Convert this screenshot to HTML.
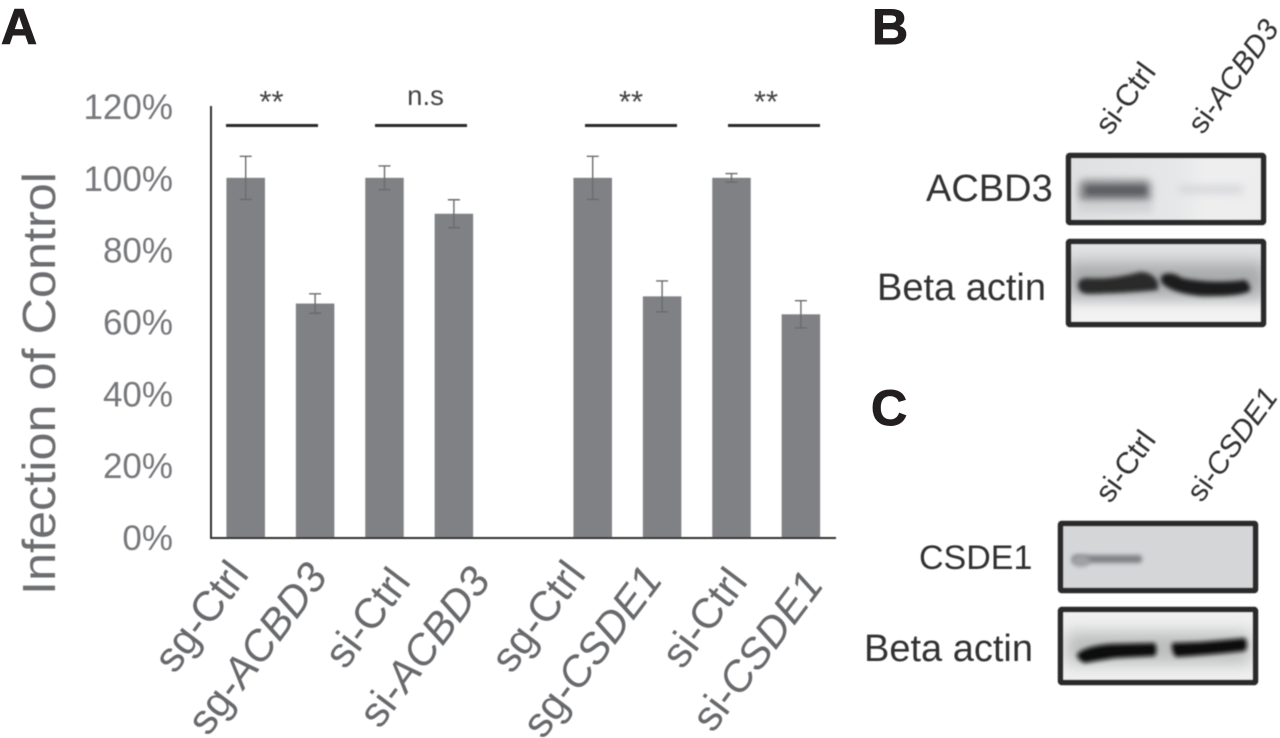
<!DOCTYPE html>
<html lang="en">
<head>
<meta charset="utf-8">
<title>Infection of Control figure</title>
<style>
html,body{margin:0;padding:0;background:#fff;width:1280px;height:738px;overflow:hidden}
svg{display:block;font-family:"Liberation Sans",sans-serif}
</style>
</head>
<body>
<svg id="fig" xmlns="http://www.w3.org/2000/svg" width="1280" height="738" viewBox="0 0 1280 738">
<defs>
<filter id="b2" x="-30%" y="-100%" width="160%" height="300%"><feGaussianBlur stdDeviation="2"/></filter>
<filter id="b4" x="-30%" y="-100%" width="160%" height="300%"><feGaussianBlur stdDeviation="4"/></filter>
<filter id="b7" x="-30%" y="-150%" width="160%" height="400%"><feGaussianBlur stdDeviation="8"/></filter>
<filter id="soft" x="-5%" y="-5%" width="110%" height="110%"><feGaussianBlur stdDeviation="0.45"/></filter>
<linearGradient id="acbd3-bg" x1="0" x2="1" y1="0" y2="0"><stop offset="0" stop-color="#dfe0e1"/><stop offset="0.55" stop-color="#e6e7e8"/><stop offset="0.7" stop-color="#eeeeef"/><stop offset="1" stop-color="#ededee"/></linearGradient>
<clipPath id="c1"><rect x="1066" y="153" width="200" height="72"/></clipPath>
<clipPath id="c2"><rect x="1066" y="239" width="200" height="88"/></clipPath>
<clipPath id="c3"><rect x="1058" y="521" width="200" height="72"/></clipPath>
<clipPath id="c4"><rect x="1058" y="607" width="200" height="78"/></clipPath>
</defs>

<g id="chart" filter="url(#soft)"></g>

<g filter="url(#soft)" font-size="42.5" fill="#68696c" text-anchor="end">
<text transform="translate(250 575) rotate(-53)">sg-Ctrl</text>
<text transform="translate(329 577) rotate(-53)">sg-<tspan font-style="italic">ACBD3</tspan></text>
<text transform="translate(412 582) rotate(-53)">si-Ctrl</text>
<text transform="translate(492 581) rotate(-53)">si-<tspan font-style="italic">ACBD3</tspan></text>
<text transform="translate(587 575) rotate(-53)">sg-Ctrl</text>
<text transform="translate(664 580) rotate(-53)">sg-<tspan font-style="italic">CSDE1</tspan></text>
<text transform="translate(749 582) rotate(-53)">si-Ctrl</text>
<text transform="translate(825 585) rotate(-53)">si-<tspan font-style="italic">CSDE1</tspan></text>
</g>

<g filter="url(#soft)" fill="#444" text-anchor="middle">
<rect x="226" y="124" width="92" height="3" fill="#2a2a2a"/>
<rect x="375" y="124" width="92" height="3" fill="#2a2a2a"/>
<rect x="585" y="124" width="92" height="3" fill="#2a2a2a"/>
<rect x="728" y="124" width="92" height="3" fill="#2a2a2a"/>
<text x="271.5" y="112" font-size="31">**</text>
<text x="425.5" y="105" font-size="27.5">n.s</text>
<text x="631" y="112" font-size="31">**</text>
<text x="766" y="112" font-size="31">**</text>
</g>

<g font-weight="700" font-size="50" fill="#231f20" stroke="#231f20" stroke-width="1">
<text x="1" y="44">A</text>
<text x="872" y="44">B</text>
<text x="871" y="425">C</text>
</g>

<g filter="url(#soft)">
<text transform="translate(1157 72) rotate(-54)" text-anchor="end" font-size="30.5" fill="#333">si-Ctrl</text>
<text transform="translate(1280 29) rotate(-54)" text-anchor="end" font-size="30" fill="#333">si-<tspan font-style="italic">ACBD3</tspan></text>
<text x="926" y="201" font-size="38" fill="#333">ACBD3</text>
<text x="877" y="300" font-size="38" fill="#333">Beta actin</text>
<g>
<rect x="1066" y="153" width="200" height="72" fill="url(#acbd3-bg)"/>
<g clip-path="url(#c1)">
<rect x="1079" y="180" width="72" height="23" rx="6" fill="#808184" filter="url(#b4)"/>
<rect x="1086" y="186" width="60" height="9" rx="4" fill="#5f6063" filter="url(#b2)"/>
<rect x="1078" y="202" width="74" height="10" fill="#d0d1d3" filter="url(#b4)"/>
<rect x="1178" y="185" width="66" height="9" rx="4" fill="#d8d9da" filter="url(#b4)"/>
</g>
<rect x="1068.5" y="155.5" width="195" height="67" rx="1" fill="none" stroke="#2a2a2c" stroke-width="5.5"/>
</g>
<g>
<rect x="1066" y="239" width="200" height="88" fill="#e2e3e4"/>
<g clip-path="url(#c2)">
<rect x="1066" y="302" width="200" height="26" fill="#f3f3f3" filter="url(#b4)"/>
<rect x="1066" y="262" width="200" height="36" fill="#a9aaac" filter="url(#b7)"/>
<path d="M1078 285 Q1078 278 1088 278 Q1110 280 1140 272 Q1152 272 1158 282 L1158 290 Q1130 293 1090 294 Q1078 294 1078 285Z" fill="#2a2a2c" filter="url(#b2)"/>
<path d="M1161 276 Q1170 270 1182 278 Q1210 284 1245 280 Q1251 284 1250 291 Q1240 297 1200 296 Q1170 293 1161 282Z" fill="#1d1d1f" filter="url(#b2)"/>
</g>
<rect x="1068.5" y="241.5" width="195" height="83" rx="1" fill="none" stroke="#2a2a2c" stroke-width="5.5"/>
</g>
</g>

<g filter="url(#soft)">
<text transform="translate(1157 440) rotate(-54)" text-anchor="end" font-size="30.5" fill="#333">si-Ctrl</text>
<text transform="translate(1279 397) rotate(-54)" text-anchor="end" font-size="30" fill="#333">si-<tspan font-style="italic">CSDE1</tspan></text>
<text x="919" y="569" font-size="34" fill="#333">CSDE1</text>
<text x="864" y="661" font-size="38" fill="#333">Beta actin</text>
<g>
<rect x="1058" y="521" width="200" height="72" fill="#d5d6d8"/>
<g clip-path="url(#c3)">
<rect x="1072" y="555" width="70" height="8" rx="3" fill="#808184" filter="url(#b2)"/>
<ellipse cx="1081" cy="561" rx="9" ry="6" fill="#a0a1a4" filter="url(#b2)"/>
</g>
<rect x="1060.5" y="523.5" width="195" height="67" rx="1" fill="none" stroke="#2a2a2c" stroke-width="5.5"/>
</g>
<g>
<rect x="1058" y="607" width="200" height="78" fill="#f0f0f0"/>
<g clip-path="url(#c4)">
<rect x="1066" y="632" width="185" height="32" fill="#bcbdbe" filter="url(#b7)"/>
<path d="M1077 654 Q1085 646 1110 644 L1155 643 Q1158 650 1155 656 L1115 658 Q1095 661 1085 663 Q1077 660 1077 654Z" fill="#0f0f10" filter="url(#b2)"/>
<path d="M1172 643 L1200 642 Q1225 640 1245 638 Q1249 645 1245 651 Q1210 655 1176 657 Q1171 652 1172 643Z" fill="#0f0f10" filter="url(#b2)"/>
</g>
<rect x="1060.5" y="609.5" width="195" height="73" rx="1" fill="none" stroke="#2a2a2c" stroke-width="5.5"/>
</g>
</g>
</svg>

<script>
const categories = ["sg-Ctrl", "sg-ACBD3", "si-Ctrl", "si-ACBD3", "", "sg-Ctrl", "sg-CSDE1", "si-Ctrl", "si-CSDE1"];
const means = [100, 65, 100, 90, null, 100, 67, 100, 62];
const errors = [6, 2.7, 3.3, 3.9, null, 6, 4.3, 1.2, 3.8];
const yTicks = [0, 20, 40, 60, 80, 100, 120];

const NS = "http://www.w3.org/2000/svg";
const chart = document.getElementById("chart");
const plotLeft = 211, plotRight = 836, plotTop = 106, plotBottom = 537;
const bandStart = 211, bandStep = 69.4, barWidth = 38.5;
const yMax = 120;
function yScale(v) { return plotBottom - (v / yMax) * (plotBottom - plotTop); }
function xCenter(i) { return bandStart + bandStep * (i + 0.5); }
function make(tag, parent, props) {
  const el = document.createElementNS(NS, tag);
  for (const k in props) el.setAttribute(k, props[k]);
  parent.appendChild(el);
  return el;
}

// bars and error bars
categories.forEach(function (cat, i) {
  if (means[i] === null) return;
  const cx = xCenter(i);
  const bar = make("rect", chart, {x: cx - barWidth / 2, y: yScale(means[i]), width: barWidth, height: plotBottom - yScale(means[i]), fill: "#808184"});
  
  
  const hi = yScale(means[i] + errors[i]);
  const lo = yScale(means[i] - errors[i]);
  const err = make("path", chart, {d: "M" + (cx - 6) + " " + hi + "H" + (cx + 6) + "M" + cx + " " + hi + "V" + lo + "M" + (cx - 6) + " " + lo + "H" + (cx + 6), fill: "none", stroke: "#6a6b6e", "stroke-width": 1.4});
  
  
});

// axes
const yAxis = make("line", chart, {x1: plotLeft, x2: plotLeft, y1: plotTop, y2: plotBottom + 2, stroke: "#333", "stroke-width": 2});


const xAxis = make("line", chart, {x1: plotLeft - 1, x2: plotRight, y1: plotBottom + 1, y2: plotBottom + 1, stroke: "#333", "stroke-width": 2});



// y tick labels
yTicks.forEach(function (t) {
  const lab = make("text", chart, {x: 173, y: yScale(t) + 13, "text-anchor": "end", "font-size": 35, fill: "#77787b"});
  lab.textContent = t + "%";
  
  
});

// y axis title
const yTitle = make("text", chart, {transform: "translate(55 595) rotate(-90)", "font-size": 46, fill: "#6d6e71", textLength: 423, lengthAdjust: "spacingAndGlyphs"});
yTitle.textContent = "Infection of Control";


</script>
</body>
</html>
